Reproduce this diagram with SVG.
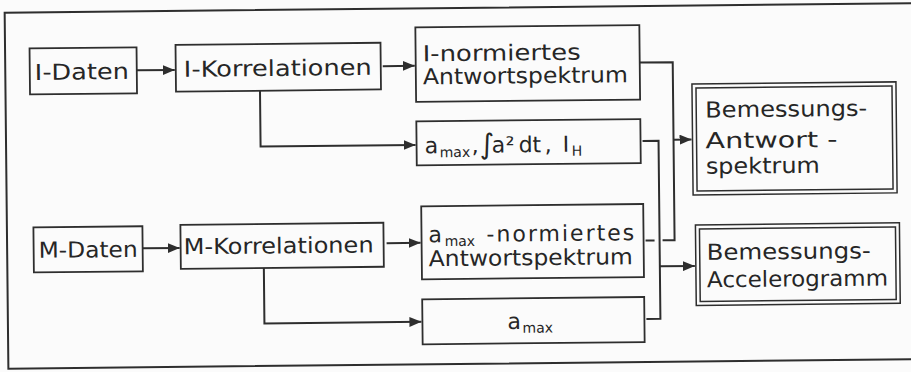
<svg xmlns="http://www.w3.org/2000/svg" width="911" height="372" viewBox="0 0 911 372">
  <style>
    .box { fill: none; stroke: #2e2e2e; stroke-width: 1.8; }
    .dbl { fill: none; stroke: #2e2e2e; stroke-width: 1.5; }
    .con { fill: none; stroke: #2e2e2e; stroke-width: 2; }
    .t { font-family: "DejaVu Sans", "Liberation Sans", sans-serif; font-size: 22px; fill: #262626; }
    .sub { font-size: 14px; }
    .int { font-size: 28px; }
  </style>
  <defs>
    <marker id="ah" markerUnits="userSpaceOnUse" markerWidth="13" markerHeight="10" refX="12" refY="5" orient="auto">
      <path d="M0,0 L12,5 L0,10 z" fill="#2e2e2e"/>
    </marker>
  </defs>
  <rect x="0" y="0" width="911" height="372" fill="#fbfbfb"/>
  <g transform="rotate(-0.6 455 186)">
    <rect id="frame" x="6.5" y="8" width="920" height="356" fill="none" stroke="#2e2e2e" stroke-width="2"/>

    <g id="connectors">
      <path class="con" d="M138,67 L176,67" marker-end="url(#ah)"/>
      <path class="con" d="M384,65.4 L416,65.4" marker-end="url(#ah)"/>
      <path class="con" d="M261,89 L261,144.5 L416,144.5" marker-end="url(#ah)"/>
      <path class="con" d="M142,245 L179,245" marker-end="url(#ah)"/>
      <path class="con" d="M386,242.5 L420,242.5" marker-end="url(#ah)"/>
      <path class="con" d="M263,266 L263,321.5 L420,321.5" marker-end="url(#ah)"/>
      <path class="con" d="M641,64.5 L674,64.5 L674,242.5 L662,242.5"/>
      <path class="con" d="M645,242.5 L654,242.5"/>
      <path class="con" d="M674,142 L692,142" marker-end="url(#ah)"/>
      <path class="con" d="M643,143 L659,143 L659,321 L645,321"/>
      <path class="con" d="M659,268.5 L694,268.5" marker-end="url(#ah)"/>
    </g>

    <g id="i-daten">
      <rect class="box" x="31" y="44" width="107" height="46"/>
      <text class="t" x="36" y="75.5" textLength="94" lengthAdjust="spacingAndGlyphs">I-Daten</text>
    </g>
    <g id="i-korrelationen">
      <rect class="box" x="177" y="42" width="205" height="46.7"/>
      <text class="t" x="185" y="74" textLength="188" lengthAdjust="spacingAndGlyphs">I-Korrelationen</text>
    </g>
    <g id="i-normiertes">
      <rect class="box" x="417" y="27" width="224" height="74.5"/>
      <text class="t" x="424" y="61" textLength="158" lengthAdjust="spacingAndGlyphs">I-normiertes</text>
      <text class="t" x="424" y="84" textLength="205" lengthAdjust="spacingAndGlyphs">Antwortspektrum</text>
    </g>
    <g id="i-kennwerte">
      <rect class="box" x="417" y="121" width="224" height="44"/>
      <text class="t" y="153"><tspan x="425">a</tspan><tspan class="sub" x="440" y="157">max</tspan><tspan x="472" y="153">,</tspan><tspan class="int" x="480" y="154">∫</tspan><tspan x="492" y="153">a</tspan><tspan x="506" y="153">²</tspan><tspan x="519" y="153">dt</tspan><tspan x="545" y="153">,</tspan><tspan x="563" y="153">I</tspan><tspan class="sub" x="572" y="157">H</tspan></text>
    </g>
    <g id="m-daten">
      <rect class="box" x="33" y="223" width="109" height="45"/>
      <text class="t" x="38" y="253.5" textLength="99" lengthAdjust="spacingAndGlyphs">M-Daten</text>
    </g>
    <g id="m-korrelationen">
      <rect class="box" x="180" y="222" width="203" height="44"/>
      <text class="t" x="183" y="251.5" textLength="190" lengthAdjust="spacingAndGlyphs">M-Korrelationen</text>
    </g>
    <g id="amax-normiertes">
      <rect class="box" x="421" y="206" width="222" height="73"/>
      <text class="t" y="242"><tspan x="428">a</tspan><tspan class="sub" x="444" y="246">max</tspan><tspan x="486" y="242" letter-spacing="2">-normiertes</tspan></text>
      <text class="t" x="428" y="266" textLength="204" lengthAdjust="spacingAndGlyphs">Antwortspektrum</text>
    </g>
    <g id="amax">
      <rect class="box" x="421" y="299" width="222" height="45"/>
      <text class="t" y="329.5"><tspan x="506">a</tspan><tspan class="sub" x="521" y="333.5">max</tspan></text>
    </g>
    <g id="bemessungs-antwortspektrum">
      <rect class="dbl" x="693" y="86.5" width="204" height="111"/>
      <rect class="dbl" x="697" y="90.5" width="196" height="103"/>
      <text class="t" x="706" y="120" textLength="162" lengthAdjust="spacingAndGlyphs">Bemessungs-</text>
      <text class="t" x="706" y="151" textLength="132" lengthAdjust="spacingAndGlyphs">Antwort -</text>
      <text class="t" x="706" y="176.5" textLength="114" lengthAdjust="spacingAndGlyphs">spektrum</text>
    </g>
    <g id="bemessungs-accelerogramm">
      <rect class="dbl" x="695" y="227.5" width="204" height="80.5"/>
      <rect class="dbl" x="699" y="231.5" width="196" height="72.5"/>
      <text class="t" x="706" y="262.5" textLength="164" lengthAdjust="spacingAndGlyphs">Bemessungs-</text>
      <text class="t" x="706" y="290" textLength="181" lengthAdjust="spacingAndGlyphs">Accelerogramm</text>
    </g>
  </g>
</svg>
